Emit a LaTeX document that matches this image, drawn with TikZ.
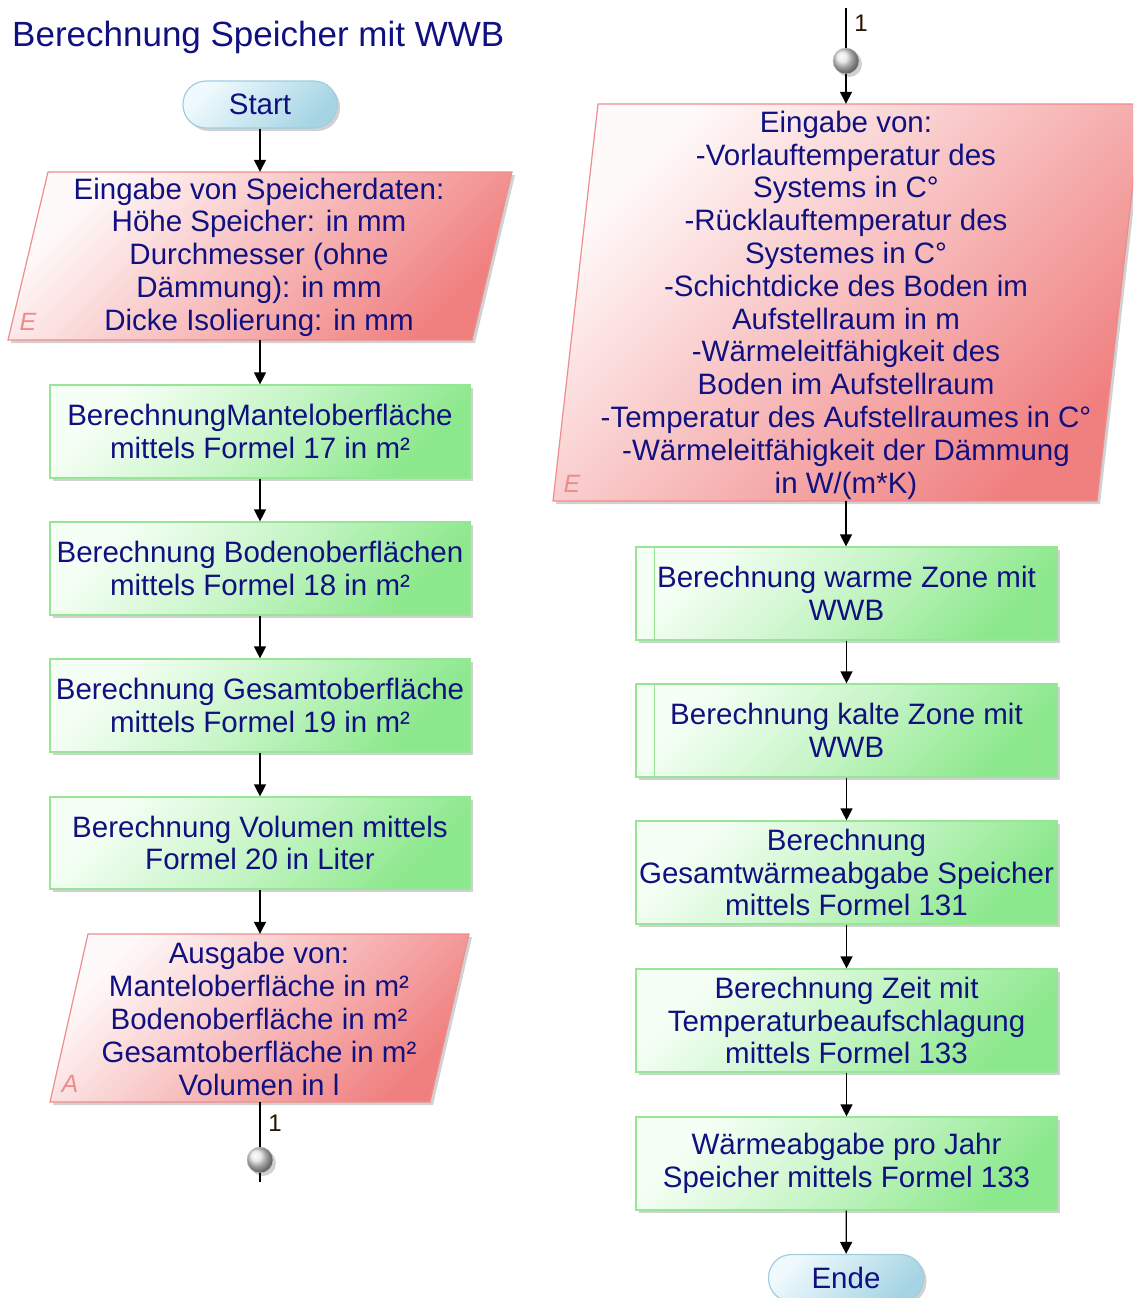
\documentclass[tikz,border=0pt]{standalone}
\usepackage{fontspec}
\setmainfont{Liberation Sans}
\usetikzlibrary{arrows.meta,shadows}
\definecolor{txt}{RGB}{16,16,128}
\definecolor{grnA}{RGB}{246,255,246}
\definecolor{grnB}{RGB}{140,232,140}
\definecolor{grnD}{RGB}{150,230,150}
\definecolor{redA}{RGB}{255,250,250}
\definecolor{redB}{RGB}{240,128,128}
\definecolor{redD}{RGB}{240,140,140}
\definecolor{bluA}{RGB}{240,250,253}
\definecolor{bluB}{RGB}{165,212,228}
\definecolor{bluD}{RGB}{160,205,225}
\definecolor{lbl}{RGB}{236,140,140}
\begin{document}
\begin{tikzpicture}[x=1pt,y=-1pt,
 txtstyle/.style={font=\fontsize{29.5}{32.8}\selectfont, text=txt, align=center, inner sep=0pt},
 shad/.style={drop shadow={shadow xshift=3pt,shadow yshift=-3pt,opacity=0.3,fill=black!60}},
 procbox/.style={txtstyle, rectangle, draw=grnD, line width=1.2pt, top color=grnA, bottom color=grnB, middle color=grnB!45!grnA, shading angle=45, minimum width=420pt, minimum height=93pt, shad},
 termbox/.style={txtstyle, rectangle, rounded corners=23pt, draw=bluD, line width=1.2pt, top color=bluA, bottom color=bluB, middle color=bluB!50!bluA, shading angle=45, minimum width=154pt, minimum height=47pt, shad},
 ghost/.style={rectangle, inner sep=0pt},
 para/.style={draw=redD, line width=1.2pt, top color=redA, bottom color=redB, middle color=redB!50!redA, shading angle=45},
 parashadow/.style={fill=black!60, opacity=0.3},
 flow/.style={line width=1.3pt, -{Triangle[width=12pt,length=12pt]}},
 plain/.style={line width=1.3pt},
 conn/.style={circle, minimum size=26pt, inner sep=0pt, ball color=black!10, draw=black!25, line width=0.5pt},
 tag/.style={font=\fontsize{25}{25}\selectfont\itshape, text=lbl, inner sep=0pt},
 num/.style={font=\fontsize{24}{24}\selectfont, text=black!85!orange, inner sep=0pt},
 subline/.style={draw=grnD, line width=1.2pt}
]
\useasboundingbox (0,0) rectangle (1133,1298);
\clip (0,0) rectangle (1133,1298);

% title
\node[font=\fontsize{35}{40}\selectfont, text=txt, inner sep=0pt, anchor=base west] (title) at (12,47) {Berechnung Speicher mit WWB};

% parallelogram shapes
\fill[parashadow] (51,175) -- (515,175) -- (475,343) -- (11,343) -- cycle;
\path[para] (48,172) -- (512,172) -- (472,340) -- (8,340) -- cycle;
\fill[parashadow] (91,937) -- (472,937) -- (433,1105) -- (53,1105) -- cycle;
\path[para] (88,934) -- (469,934) -- (430,1102) -- (50,1102) -- cycle;
\fill[parashadow] (601,107) -- (1145,107) -- (1100,504) -- (556,504) -- cycle;
\path[para] (598,104) -- (1142,104) -- (1097,501) -- (553,501) -- cycle;

% left column
\node[termbox] (start) at (260,104.5) {Start};
\node[ghost, minimum width=464pt, minimum height=168pt] (p1) at (260,256) {};
\node[txtstyle] (p1t) at (259,257) {Eingabe von Speicherdaten:\\Höhe Speicher: in mm\\Durchmesser (ohne\\Dämmung): in mm\\Dicke Isolierung: in mm};
\node[tag] (p1e) at (28,322) {E};
\node[procbox] (b1) at (260,431.5) {BerechnungManteloberfläche\\mittels Formel 17 in m²};
\node[procbox] (b2) at (260,568.5) {Berechnung Bodenoberflächen\\mittels Formel 18 in m²};
\node[procbox] (b3) at (260,705.5) {Berechnung Gesamtoberfläche\\mittels Formel 19 in m²};
\node[procbox, minimum height=92pt] (b4) at (260,843) {Berechnung Volumen mittels\\Formel 20 in Liter};
\node[ghost, minimum width=419pt, minimum height=168pt] (p2) at (260,1018) {};
\node[txtstyle] (p2t) at (259,1019) {Ausgabe von:\\Manteloberfläche in m²\\Bodenoberfläche in m²\\Gesamtoberfläche in m²\\Volumen in l};
\node[tag] (p2a) at (70,1084) {A};
\node[conn, shad] (c1) at (260,1160) {};
\node[num] (n1) at (275,1123) {1};
\coordinate (e1) at (260,1182);

\draw[flow] (start.south) -- (start.south |- p1.north);
\draw[flow] (p1.south) -- (p1.south |- b1.north);
\draw[flow] (b1) -- (b2);
\draw[flow] (b2) -- (b3);
\draw[flow] (b3) -- (b4);
\draw[flow] (b4.south) -- (b4.south |- p2.north);
\draw[plain] (p2.south) -- (c1.north);
\draw[plain] (c1.south) -- (e1);

% right column
\coordinate (e2) at (846,8);
\node[conn, shad] (c2) at (846,61) {};
\node[num] (n2) at (861,23) {1};
\node[ghost, minimum width=544pt, minimum height=397pt] (p3) at (846,302.5) {};
\node[txtstyle] (p3t) at (846,305) {Eingabe von:\\-Vorlauftemperatur des\\Systems in C°\\-Rücklauftemperatur des\\Systemes in C°\\-Schichtdicke des Boden im\\Aufstellraum in m\\-Wärmeleitfähigkeit des\\Boden im Aufstellraum\\-Temperatur des Aufstellraumes in C°\\-Wärmeleitfähigkeit der Dämmung\\in W/(m*K)};
\node[tag] (p3e) at (572,484) {E};
\node[procbox, minimum width=421pt] (r1) at (846.5,593.5) {Berechnung warme Zone mit\\WWB};
\node[procbox, minimum width=421pt] (r2) at (846.5,730.5) {Berechnung kalte Zone mit\\WWB};
\node[procbox, minimum width=421pt, minimum height=103pt] (r3) at (846.5,872.5) {Berechnung\\Gesamtwärmeabgabe Speicher\\mittels Formel 131};
\node[procbox, minimum width=421pt, minimum height=103pt] (r4) at (846.5,1020.5) {Berechnung Zeit mit\\Temperaturbeaufschlagung\\mittels Formel 133};
\node[procbox, minimum width=421pt] (r5) at (846.5,1163.5) {Wärmeabgabe pro Jahr\\Speicher mittels Formel 133};
\node[termbox, minimum width=155pt] (ende) at (846,1278) {Ende};

\draw[subline] ([xshift=19pt]r1.north west) -- ([xshift=19pt]r1.south west);
\draw[subline] ([xshift=-19pt]r1.north east) -- ([xshift=-19pt]r1.south east);
\draw[subline] ([xshift=19pt]r2.north west) -- ([xshift=19pt]r2.south west);
\draw[subline] ([xshift=-19pt]r2.north east) -- ([xshift=-19pt]r2.south east);

\draw[plain] (e2) -- (c2.north);
\draw[flow] (c2.south) -- (c2.south |- p3.north);
\draw[flow] (p3.south) -- (p3.south |- r1.north);
\draw[flow] (r1) -- (r2);
\draw[flow] (r2) -- (r3);
\draw[flow] (r3) -- (r4);
\draw[flow] (r4) -- (r5);
\draw[flow] (r5) -- (ende);
\end{tikzpicture}
\end{document}
